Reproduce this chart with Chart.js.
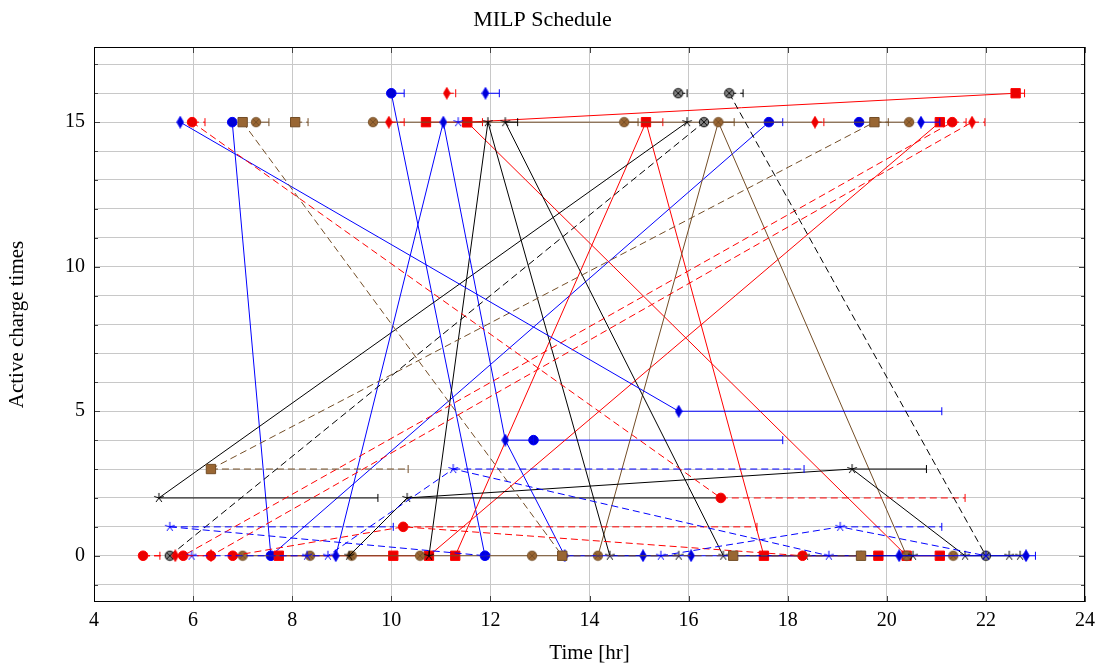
<!DOCTYPE html>
<html>
<head>
<meta charset="utf-8">
<script src="https://cdn.jsdelivr.net/npm/chart.js@4.4.1/dist/chart.umd.min.js"></script>
<style>
  html, body { margin: 0; padding: 0; background: #fff; }
</style>
</head>
<body>
<canvas id="grafica" width="1103" height="669"></canvas>
<script>
// rows: [time hr, charger, end of charge (optional)]; null breaks the line
const blueCircle = [
    [6.79, 15], [7.57, 0], [17.62, 15, 17.9], null,
    [10.0, 16, 10.26], [11.89, 0], null,
    [12.87, 4, 17.9], null,
    [19.44, 15]
];
const redSquare = [
    [7.73, 0], [10.04, 0], [10.76, 0], [21.07, 15], null,
    [11.29, 0], [15.14, 15, 15.48], [17.52, 0], [19.83, 0], null,
    [10.7, 15], [11.53, 15, 11.84], [22.6, 16, 22.78], null,
    [11.53, 15], [20.4, 0], [21.07, 0]
];
const brownOtimes = [
    [7.0, 0], [8.36, 0], [9.2, 0], [10.58, 0], [12.84, 0], [14.17, 0], [16.6, 15, 16.92], [20.4, 0], [21.34, 0], null,
    [7.27, 15, 7.53], null,
    [9.63, 15], [14.7, 15, 14.98], [20.45, 15]
];
const blackStar = [
    [5.31, 2, 9.73], [15.97, 15], null,
    [9.15, 0], [10.32, 2, 16.6], [19.3, 3, 20.8], [21.58, 0], [22.47, 0], [22.69, 0], null,
    [10.76, 0], [11.95, 15], [14.41, 0], [15.8, 0], null,
    [12.3, 15, 12.55], [16.7, 0], [18.35, 0], [19.48, 0], [20.53, 0]
];
const blueDiamond = [
    [5.74, 15], [15.8, 5, 21.11], null,
    [8.88, 0], [11.05, 15], [12.3, 4, 12.87], [13.5, 0], [15.08, 0], [16.05, 0], [20.25, 0], [22.81, 0, 23.0], null,
    [11.9, 16, 12.18], null,
    [20.69, 15, 21.07]
];
const redCircle = [
    [4.99, 0, 5.33], [5.8, 0], [21.32, 15, 21.6], null,
    [5.98, 15, 6.24], [16.65, 2, 21.58], null,
    [6.8, 0], [10.24, 1, 17.38], [18.3, 0], null,
    [6.36, 0]
];
const brownSquare = [
    [7.0, 15], [13.45, 0], [16.9, 0], [19.48, 0], null,
    [8.06, 15, 8.32], null,
    [6.36, 3, 10.34], [19.75, 15, 20.03]
];
const grayOtimes = [
    [5.53, 0], [16.31, 15], null,
    [15.79, 16, 15.97], null,
    [16.82, 16, 17.1], [22.0, 0]
];
const blueStar = [
    [5.53, 1, 10.04], [11.9, 0], null,
    [5.97, 0], [8.3, 0], [8.72, 0], [11.25, 3, 18.33], [18.83, 0], null,
    [15.44, 0], [19.06, 1, 21.11], [22.0, 0], null,
    [11.35, 15]
];
const redDiamond = [
    [5.64, 0], [6.36, 0], [21.72, 15, 21.98], null,
    [9.95, 15, 10.26], null,
    [11.12, 16, 11.3], null,
    [18.55, 15, 18.73]
];

const yLabels = [0, 5, 10, 15];

// marks drawn on small canvases
function markOtimes(fill, stroke) {
    let c = document.createElement('canvas');
    c.width = 12; c.height = 12;
    let g = c.getContext('2d');
    g.beginPath();
    g.arc(6, 6, 4.7, 0, 2 * Math.PI);
    g.fillStyle = fill;
    g.fill();
    g.strokeStyle = stroke;
    g.lineWidth = 0.9;
    g.stroke();
    let d = 4.7 * Math.SQRT1_2;
    g.beginPath();
    g.moveTo(6 - d, 6 - d); g.lineTo(6 + d, 6 + d);
    g.moveTo(6 + d, 6 - d); g.lineTo(6 - d, 6 + d);
    g.stroke();
    return c;
}

function markDiamond(fill, stroke) {
    let c = document.createElement('canvas');
    c.width = 8; c.height = 13;
    let g = c.getContext('2d');
    g.beginPath();
    g.moveTo(4, 0.6); g.lineTo(7.4, 6.5); g.lineTo(4, 12.4); g.lineTo(0.6, 6.5);
    g.closePath();
    g.fillStyle = fill;
    g.fill();
    g.strokeStyle = stroke;
    g.lineWidth = 0.8;
    g.stroke();
    return c;
}

function markStar(stroke) {
    let c = document.createElement('canvas');
    c.width = 12; c.height = 12;
    let g = c.getContext('2d');
    g.strokeStyle = stroke;
    g.lineWidth = 1;
    g.beginPath();
    for (let k = 0; k < 5; k++) {
        let a = -Math.PI / 2 + k * 2 * Math.PI / 5;
        g.moveTo(6, 6);
        g.lineTo(6 + 5 * Math.cos(a), 6 + 5 * Math.sin(a));
    }
    g.stroke();
    return c;
}

const BLUE = 'rgb(0,0,255)', BLUEF = 'rgb(0,0,215)';
const RED = 'rgb(255,0,0)', REDF = 'rgb(235,0,0)';
const BROWN = 'rgb(115,77,38)', BROWNF = 'rgb(153,102,51)';
const BLACK = 'rgb(0,0,0)';
const DASH = [7, 4];

const series = [
    { rows: blueCircle, color: BLUE, fill: BLUEF, mark: 'circle', r: 4.8, dash: [] },
    { rows: redSquare, color: RED, fill: REDF, mark: 'rect', r: 6.6, dash: [] },
    { rows: brownOtimes, color: BROWN, fill: BROWNF, mark: markOtimes(BROWNF, BROWN), r: 5, dash: [] },
    { rows: blackStar, color: BLACK, fill: BLACK, mark: markStar(BLACK), r: 5, dash: [] },
    { rows: blueDiamond, color: BLUE, fill: BLUEF, mark: markDiamond(BLUEF, BLUE), r: 5, dash: [] },
    { rows: redCircle, color: RED, fill: REDF, mark: 'circle', r: 4.8, dash: DASH },
    { rows: brownSquare, color: BROWN, fill: BROWNF, mark: 'rect', r: 6.6, dash: DASH },
    { rows: grayOtimes, color: BLACK, fill: 'rgb(128,128,128)', mark: markOtimes('rgb(128,128,128)', BLACK), r: 5, dash: DASH },
    { rows: blueStar, color: BLUE, fill: BLUE, mark: markStar(BLUE), r: 5, dash: DASH },
    { rows: redDiamond, color: RED, fill: REDF, mark: markDiamond(REDF, RED), r: 5, dash: DASH }
];

const datasets = series.map((s, i) => ({
    data: s.rows.map(r => r ? { x: r[0], y: r[1], e: r.length > 2 ? r[2] : null } : { x: NaN, y: NaN }),
    showLine: true,
    borderColor: s.color,
    borderWidth: 1,
    borderDash: s.dash,
    pointStyle: s.mark,
    pointRadius: s.r,
    pointBackgroundColor: s.fill,
    pointBorderColor: s.color,
    pointBorderWidth: 1,
    order: series.length - i
}));

// horizontal charge bars with end cap
const errorBars = {
    id: 'errorBars',
    beforeDatasetDraw(chart, args) {
        const ds = chart.data.datasets[args.index];
        const xs = chart.scales.x, ys = chart.scales.y, a = chart.chartArea;
        const ctx = chart.ctx;
        ctx.save();
        ctx.beginPath();
        ctx.rect(a.left, a.top, a.right - a.left, a.bottom - a.top);
        ctx.clip();
        ctx.strokeStyle = ds.borderColor;
        ctx.lineWidth = 1;
        ds.data.forEach(p => {
            if (p.e == null || isNaN(p.x)) return;
            let x0 = xs.getPixelForValue(p.x);
            let x1 = xs.getPixelForValue(p.e);
            let y = ys.getPixelForValue(p.y);
            ctx.setLineDash(ds.borderDash);
            ctx.beginPath();
            ctx.moveTo(x0, y); ctx.lineTo(x1, y);
            ctx.stroke();
            ctx.setLineDash([]);
            ctx.beginPath();
            ctx.moveTo(x1, y - 4); ctx.lineTo(x1, y + 4);
            ctx.stroke();
        });
        ctx.restore();
    }
};

// inner tick marks and axis box
const frame = {
    id: 'frame',
    afterDraw(chart) {
        const { ctx, chartArea: a, scales: { x, y } } = chart;
        ctx.save();
        ctx.strokeStyle = '#444';
        ctx.lineWidth = 1;
        ctx.beginPath();
        x.ticks.forEach(t => {
            let px = Math.round(x.getPixelForValue(t.value)) + 0.5;
            ctx.moveTo(px, a.bottom); ctx.lineTo(px, a.bottom - 6);
            ctx.moveTo(px, a.top); ctx.lineTo(px, a.top + 6);
        });
        y.ticks.forEach(t => {
            let len = yLabels.includes(t.value) ? 6 : 4;
            let py = Math.round(y.getPixelForValue(t.value)) + 0.5;
            ctx.moveTo(a.left, py); ctx.lineTo(a.left + len, py);
            ctx.moveTo(a.right, py); ctx.lineTo(a.right - len, py);
        });
        ctx.stroke();
        ctx.strokeStyle = '#000';
        ctx.strokeRect(Math.round(a.left) + 0.5, Math.round(a.top) + 0.5,
            Math.round(a.right - a.left) - 1, Math.round(a.bottom - a.top) - 1);
        ctx.restore();
    }
};

Chart.defaults.font.family = '"Liberation Serif", "DejaVu Serif", serif';
Chart.defaults.font.size = 20;
Chart.defaults.color = '#000';

new Chart('grafica', {
    type: 'scatter',
    data: { datasets: datasets },
    plugins: [errorBars, frame],
    options: {
        responsive: false,
        animation: false,
        layout: { padding: { right: 18 } },
        plugins: {
            legend: { display: false },
            tooltip: { enabled: false },
            title: {
                display: true,
                text: 'MILP Schedule',
                font: { size: 22, weight: 'normal' },
                padding: { top: 6.8, bottom: 13.8 }
            }
        },
        scales: {
            x: {
                type: 'linear',
                min: 4,
                max: 24,
                afterFit: s => { s.height = 67; },
                ticks: { stepSize: 2, padding: 7, maxRotation: 0 },
                grid: { color: 'rgb(200,200,200)', drawTicks: false },
                border: { display: false },
                title: { display: true, text: 'Time [hr]', font: { size: 21 }, padding: { top: 0, bottom: 3.4 } }
            },
            y: {
                type: 'linear',
                min: -1.6,
                max: 17.6,
                afterFit: s => { s.width = 94; },
                ticks: {
                    stepSize: 1,
                    includeBounds: false,
                    padding: 9,
                    autoSkip: false,
                    callback: v => (yLabels.includes(v) ? v : '')
                },
                grid: { color: 'rgb(200,200,200)', drawTicks: false },
                border: { display: false },
                title: { display: true, text: 'Active charge times', font: { size: 21 }, padding: { top: 4.4, bottom: 0 } }
            }
        }
    }
});
</script>
</body>
</html>
